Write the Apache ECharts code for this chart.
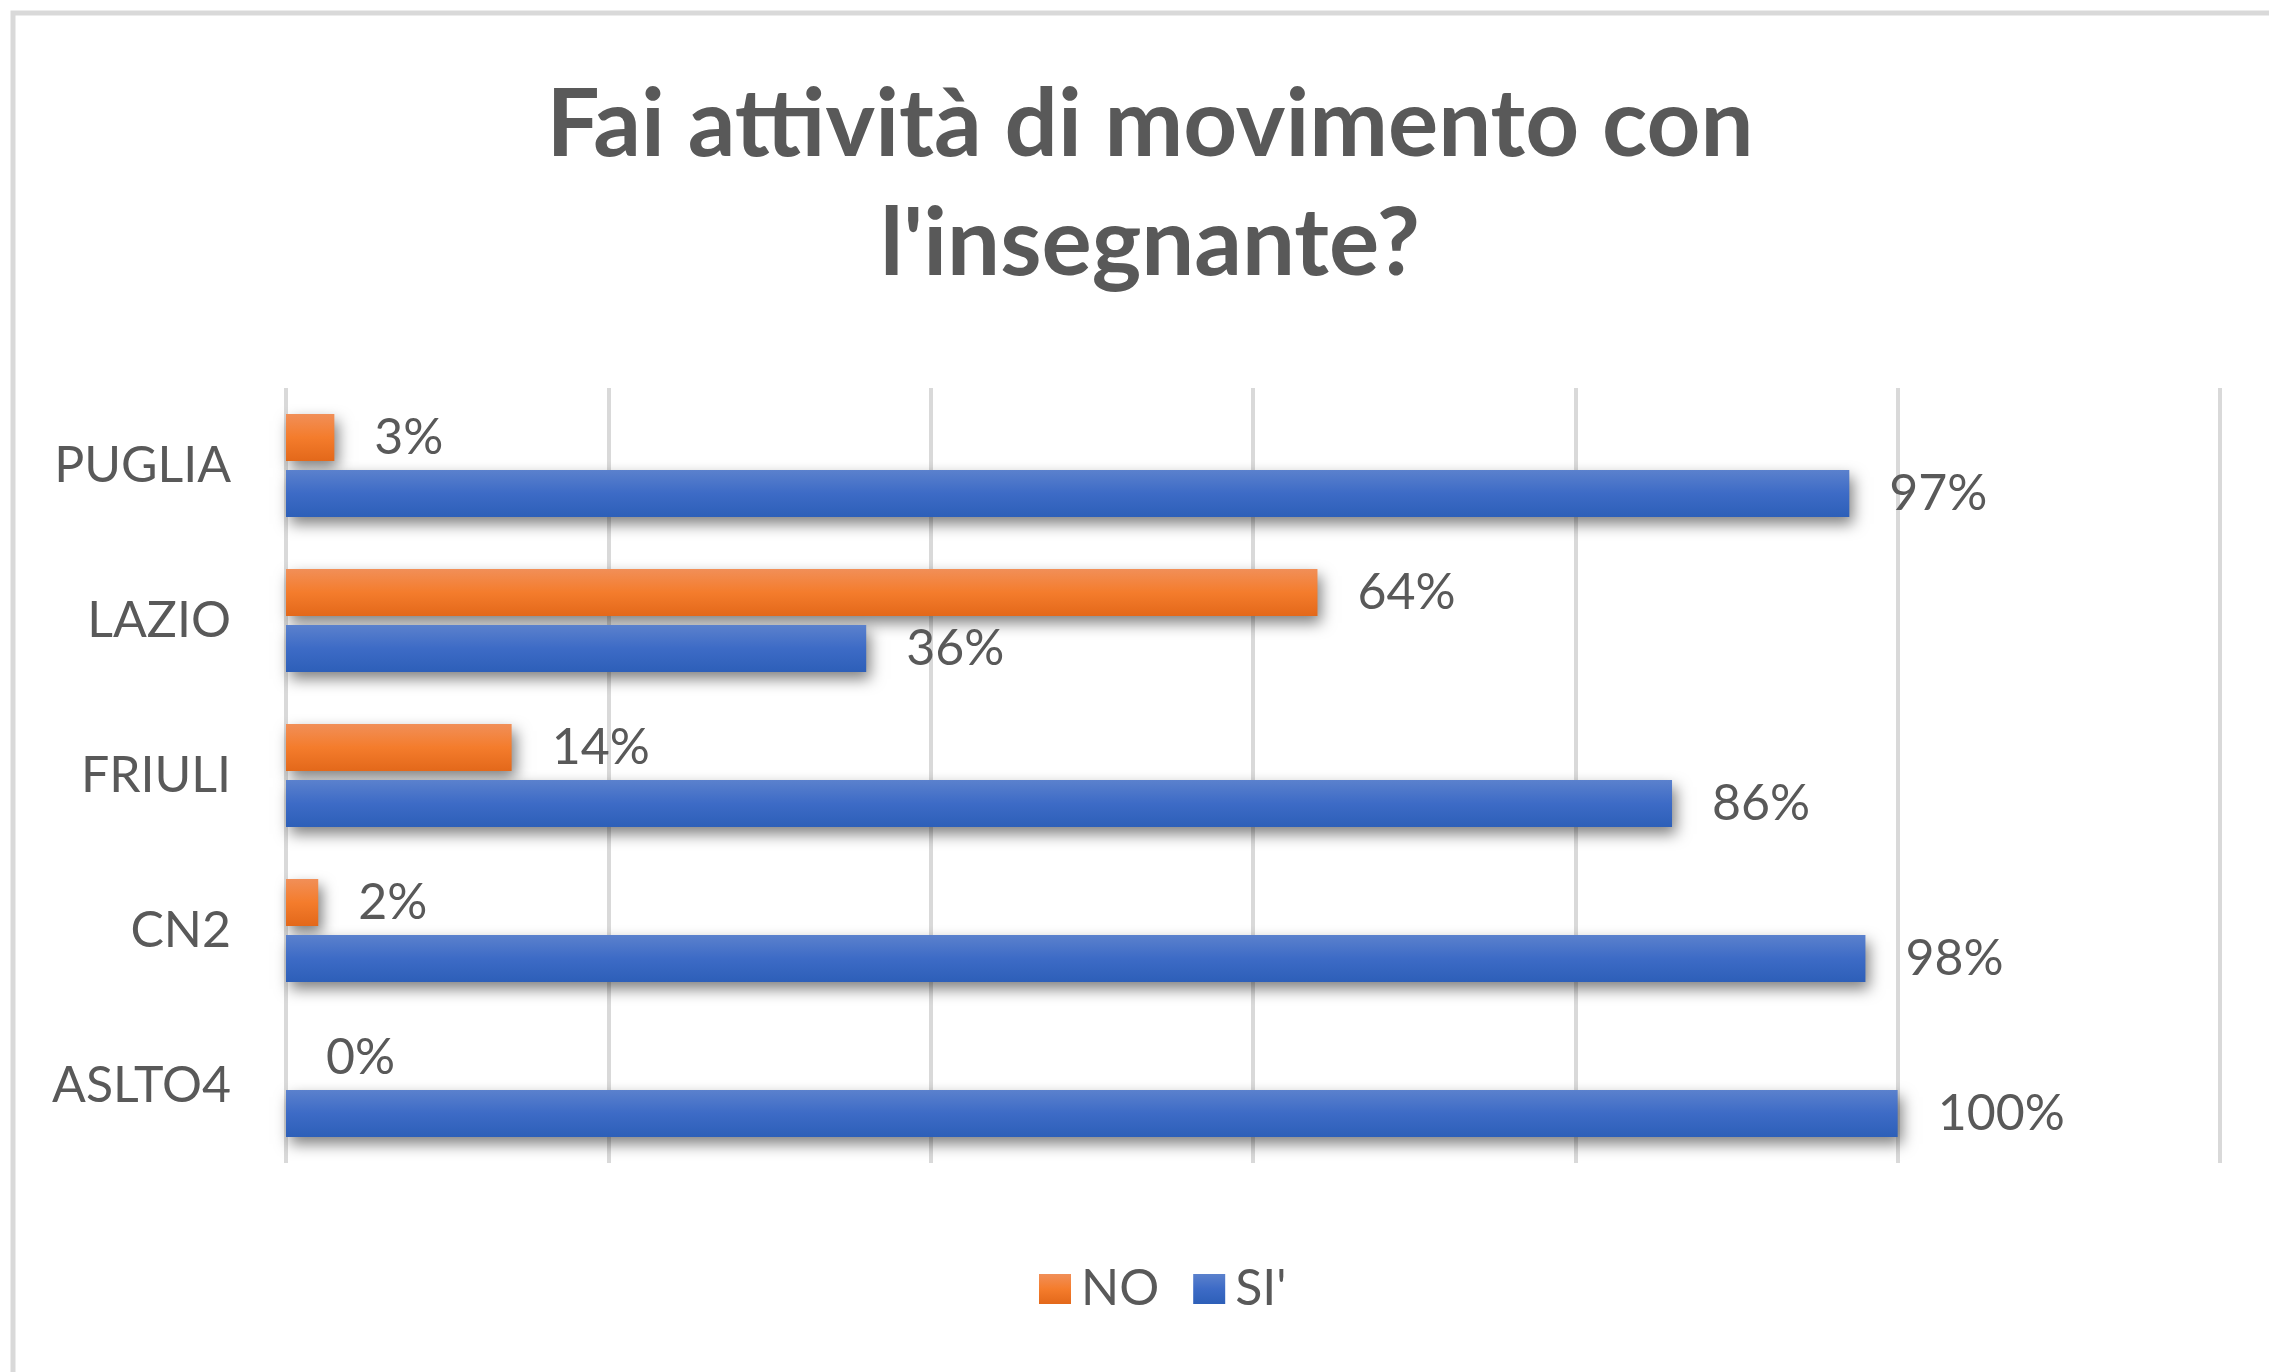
<!DOCTYPE html>
<html>
<head>
<meta charset="utf-8">
<script src="https://cdn.jsdelivr.net/npm/echarts@6/dist/echarts.min.js"></script>
<style>
  html, body { margin: 0; padding: 0; background: #ffffff; }
  #chart { width: 2269px; height: 1372px; }
</style>
</head>
<body>
<div id="chart"></div>
<script>
const categories = ["PUGLIA", "LAZIO", "FRIULI", "CN2", "ASLTO4"];
const noValues = [3, 64, 14, 2, 0];
const siValues = [97, 36, 86, 98, 100];
const seriesNames = ["NO", "SI'"];

const colors = {
  text: "#595959",
  grid: "#d9d9d9",
};

const orangeFill = new echarts.graphic.LinearGradient(0, 0, 0, 1, [
  { offset: 0, color: "#f18f58" },
  { offset: 0.5, color: "#f47c2c" },
  { offset: 1, color: "#e3681a" },
]);
const blueFill = new echarts.graphic.LinearGradient(0, 0, 0, 1, [
  { offset: 0, color: "#5b81cd" },
  { offset: 0.5, color: "#3d6bc6" },
  { offset: 1, color: "#2d5fb8" },
]);

const chart = echarts.init(document.getElementById("chart"));

const barStyle = (fill) => ({
  color: fill,
  shadowBlur: 14,
  shadowColor: "rgba(0, 0, 0, 0.5)",
  shadowOffsetX: 4,
  shadowOffsetY: 7,
});

const labelStyle = {
  show: true,
  position: "right",
  distance: 40,
  formatter: "{c}%",
  fontFamily: "Lato",
  fontSize: 50,
  color: colors.text,
};

const options = {
  backgroundColor: "#ffffff",
  animation: false,
  title: {
    text: "Fai attività di movimento con\nl'insegnante?",
    left: 1150,
    top: 66,
    padding: 0,
    textAlign: "center",
    textStyle: {
      fontFamily: "Lato",
      fontSize: 94,
      fontWeight: "bold",
      lineHeight: 119,
      color: colors.text,
    },
  },
  graphic: [
    {
      type: "rect",
      z: -1,
      shape: { x: 13, y: 13, width: 3000, height: 3000 },
      style: { fill: "none", stroke: colors.grid, lineWidth: 5 },
    },
  ],
  legend: {
    data: seriesNames,
    left: 1034,
    top: 1259,
    icon: "rect",
    itemWidth: 32,
    itemHeight: 30,
    itemGap: 34,
    textStyle: {
      fontFamily: "Lato",
      fontSize: 50,
      color: colors.text,
      padding: [0, 0, 0, 5],
    },
  },
  grid: {
    left: 286,
    top: 388,
    width: 1934,
    height: 775,
  },
  xAxis: {
    type: "value",
    min: 0,
    max: 120,
    interval: 20,
    axisLabel: { show: false },
    axisLine: { show: false },
    axisTick: { show: false },
    splitLine: {
      show: true,
      lineStyle: { color: colors.grid, width: 4 },
    },
  },
  yAxis: {
    type: "category",
    data: categories,
    inverse: true,
    axisLine: { show: false },
    axisTick: { show: false },
    axisLabel: {
      margin: 55,
      fontFamily: "Lato",
      fontSize: 50,
      color: colors.text,
    },
  },
  series: [
    {
      name: seriesNames[0],
      type: "bar",
      data: noValues,
      barGap: "19%",
      barCategoryGap: "33.5%",
      itemStyle: barStyle(orangeFill),
      label: labelStyle,
    },
    {
      name: seriesNames[1],
      type: "bar",
      data: siValues,
      barGap: "19%",
      barCategoryGap: "33.5%",
      itemStyle: barStyle(blueFill),
      label: labelStyle,
    },
  ],
};

chart.setOption(options);
</script>
</body>
</html>
